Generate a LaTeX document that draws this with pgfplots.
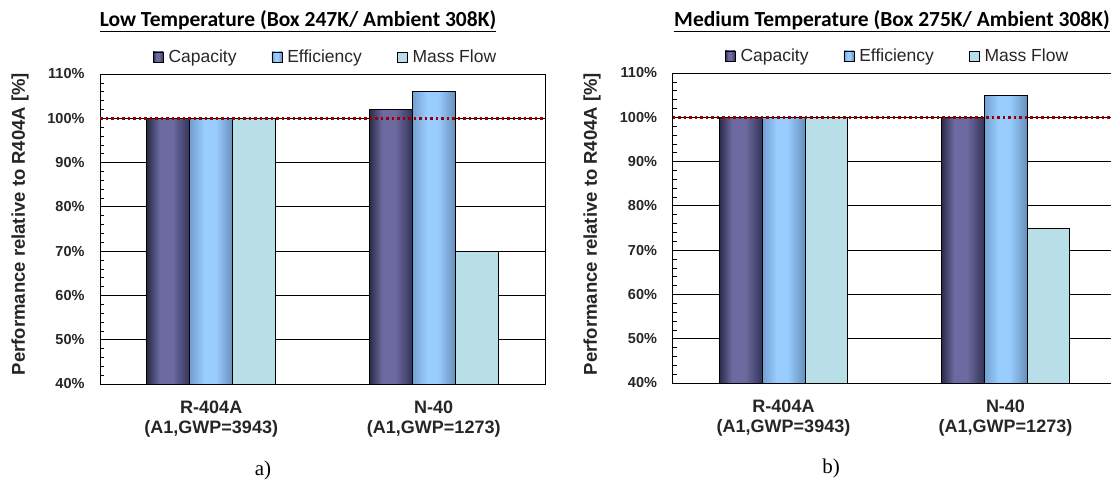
\documentclass[border=0pt]{standalone}
\usepackage{fontspec}
\setmainfont{Liberation Sans}
\newfontfamily\calibrifont{Carlito}
\newfontfamily\timesfont{Liberation Serif}
\usepackage{pgfplots}
\pgfplotsset{compat=1.18}
\definecolor{capD}{HTML}{34345A}
\definecolor{capL}{HTML}{6C6AA0}
\definecolor{effD}{HTML}{72A0D0}
\definecolor{effL}{HTML}{99CCFF}
\definecolor{massC}{HTML}{B8DEE8}
\definecolor{refred}{HTML}{9A0000}
\pgfdeclarehorizontalshading{capshade}{100bp}{color(0bp)=(capD); color(25bp)=(capD!80!black); color(40bp)=(capL); color(55bp)=(capL); color(75bp)=(capD); color(100bp)=(capD)}
\pgfdeclarehorizontalshading{effshade}{100bp}{color(0bp)=(effD); color(25bp)=(effD); color(42bp)=(effL); color(55bp)=(effL); color(75bp)=(effD!90!black); color(100bp)=(effD)}
\pgfplotsset{
  capstyle/.style={draw=black, line width=0.7pt, shading=capshade, bar shift=-0.193},
  effstyle/.style={draw=black, line width=0.7pt, shading=effshade, bar shift=0},
  massstyle/.style={draw=black, line width=0.7pt, fill=massC, bar shift=0.193},
  panel/.style={
    anchor=south west, scale only axis,
    height=310pt,
    xmin=-0.5, xmax=1.5, ymin=40, ymax=110,
    ybar, bar width=0.193,
    xtick={0,1},
    xticklabels={{R-404A\\(A1,GWP=3943)},{N-40\\(A1,GWP=1273)}},
    xticklabel style={align=center, font=\fontsize{18}{20.5}\selectfont\bfseries, text=black!85, yshift=-13pt},
    x tick style={draw=none},
    extra x ticks={-0.5,0.5,1.5},
    extra x tick labels={},
    extra x tick style={grid=none, tick align=outside, major tick length=5pt, tick style={draw=black, line width=0.8pt}},
    ytick={40,50,...,110},
    minor y tick num=4,
    ytick pos=left, ytick align=inside,
    y tick style={draw=black, line width=0.6pt},
    major tick length=0pt, minor tick length=4pt,
    ymajorgrids, major grid style={black, line width=0.8pt},
    /pgf/number format/assume math mode=true,
    yticklabel={\pgfmathprintnumber{\tick}\%},
    yticklabel style={font=\fontsize{14.5}{14.5}\selectfont\bfseries, text=black!85, xshift=-12pt},
    axis line style={black, line width=0.8pt},
    legend columns=3,
    legend style={draw=none, fill=none, font=\fontsize{17.5}{18}\selectfont, text=black!85,
      at={(0.5,1)}, anchor=center, yshift=17pt, xshift=3pt,
      /tikz/every even column/.append style={column sep=33pt},
      cells={anchor=west}},
    legend image code/.code={\draw[#1, line width=0.7pt] (0pt,-5pt) rectangle (10pt,5pt); \path (13pt,0pt);},
  },
}
\begin{document}
\begin{tikzpicture}
\useasboundingbox (0,0) rectangle (1111pt,486pt);
% ---------- panel a ----------
\begin{axis}[panel, at={(100pt,102pt)}, width=445pt]
\addplot[capstyle]  coordinates {(0,100)}; \addlegendentry{Capacity}
\addplot[effstyle]  coordinates {(0,100)}; \addlegendentry{Efficiency}
\addplot[massstyle] coordinates {(0,100)}; \addlegendentry{Mass Flow}
\addplot[capstyle, forget plot]  coordinates {(1,102)};
\addplot[effstyle, forget plot]  coordinates {(1,106)};
\addplot[massstyle, forget plot] coordinates {(1,70)};
\addplot[sharp plot, forget plot, refred, line width=2.6pt, dash pattern=on 2.6pt off 2.9pt] coordinates {(-0.5,100) (1.5,100)};
\end{axis}
% ---------- panel b ----------
\begin{axis}[panel, at={(672.5pt,103pt)}, width=444pt]
\addplot[capstyle]  coordinates {(0,100)}; \addlegendentry{Capacity}
\addplot[effstyle]  coordinates {(0,100)}; \addlegendentry{Efficiency}
\addplot[massstyle] coordinates {(0,100)}; \addlegendentry{Mass Flow}
\addplot[capstyle, forget plot]  coordinates {(1,100)};
\addplot[effstyle, forget plot]  coordinates {(1,105)};
\addplot[massstyle, forget plot] coordinates {(1,75)};
\addplot[sharp plot, forget plot, refred, line width=2.6pt, dash pattern=on 2.6pt off 2.9pt] coordinates {(-0.5,100) (1.5,100)};
\end{axis}
% ---------- titles and labels ----------
\node[font=\calibrifont\fontsize{21.5}{21.5}\selectfont\bfseries] at (298pt,465pt) {\underline{Low Temperature (Box 247K/ Ambient 308K)}};
\node[font=\calibrifont\fontsize{21.5}{21.5}\selectfont\bfseries] at (892pt,465pt) {\underline{Medium Temperature (Box 275K/ Ambient 308K)}};
\node[rotate=90, font=\fontsize{18.5}{18.5}\selectfont\bfseries, text=black!85] at (20pt,262pt) {Performance relative to R404A [\%]};
\node[rotate=90, font=\fontsize{18.5}{18.5}\selectfont\bfseries, text=black!85] at (592pt,262pt) {Performance relative to R404A [\%]};
\node[font=\timesfont\fontsize{21}{21}\selectfont] at (263pt,16pt) {a)};
\node[font=\timesfont\fontsize{21}{21}\selectfont] at (831pt,18pt) {b)};
\end{tikzpicture}
\end{document}
